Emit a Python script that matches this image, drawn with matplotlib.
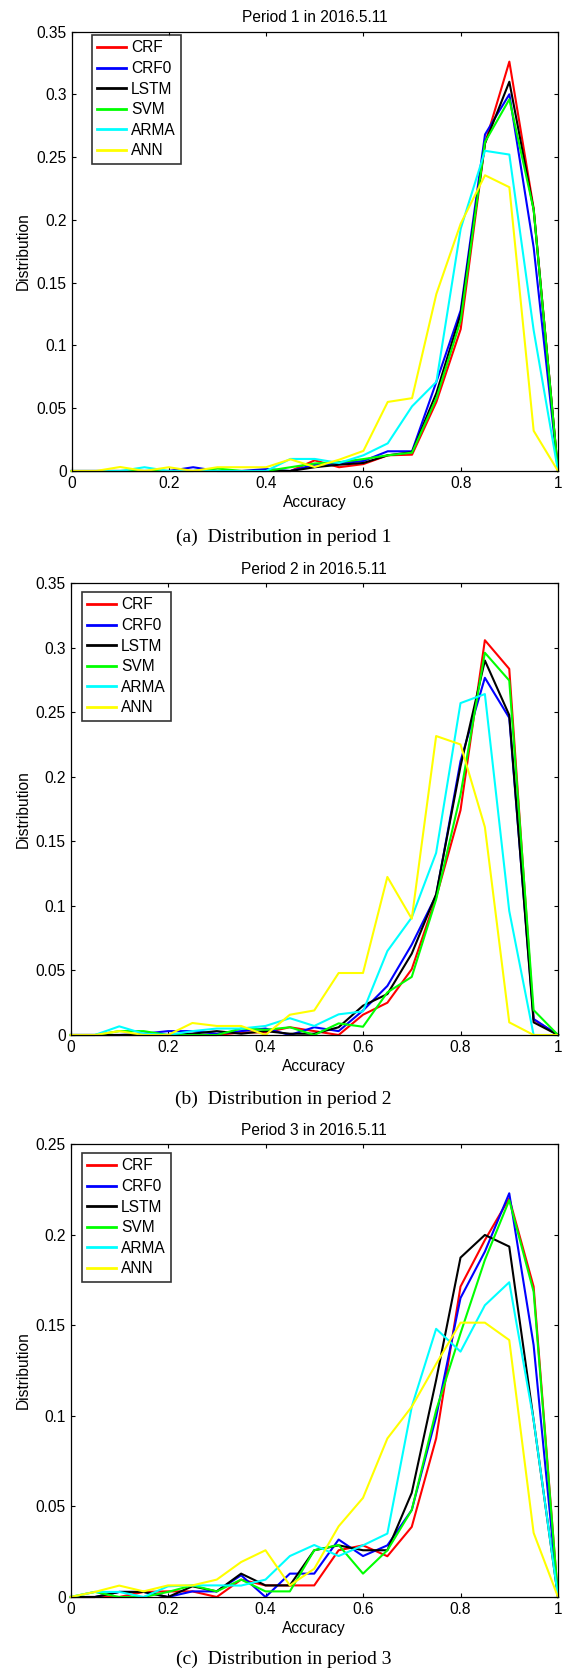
import matplotlib
matplotlib.use("Agg")
import matplotlib.pyplot as plt

plt.rcParams['font.family'] = ['Liberation Sans', 'DejaVu Sans']

accuracy = [0.00, 0.05, 0.10, 0.15, 0.20, 0.25, 0.30, 0.35, 0.40, 0.45, 0.50,
            0.55, 0.60, 0.65, 0.70, 0.75, 0.80, 0.85, 0.90, 0.95, 1.00]
methods = ["CRF", "CRF0", "LSTM", "SVM", "ARMA", "ANN"]
colors = ["#ff0000", "#0000ff", "#000000", "#00ff00", "#00ffff", "#ffff00"]

p1_crf  = [0, 0, 0, 0, 0, 0, 0, 0, 0, 0, 0.0085, 0.003, 0.0055, 0.0125, 0.013, 0.055, 0.113, 0.261, 0.326, 0.209, 0]
p1_crf0 = [0, 0, 0, 0, 0, 0.003, 0, 0, 0.0016, 0, 0.005, 0.006, 0.008, 0.0157, 0.0157, 0.071, 0.128, 0.268, 0.300, 0.178, 0]
p1_lstm = [0, 0, 0, 0, 0, 0, 0, 0, 0, 0, 0.003, 0.005, 0.0064, 0.0125, 0.015, 0.062, 0.125, 0.261, 0.310, 0.208, 0]
p1_svm  = [0, 0, 0, 0, 0, 0, 0.002, 0, 0, 0.003, 0.006, 0.007, 0.0095, 0.0125, 0.0146, 0.058, 0.120, 0.262, 0.296, 0.208, 0]
p1_arma = [0, 0, 0, 0.003, 0, 0, 0, 0, 0, 0.0096, 0.0096, 0.0064, 0.0125, 0.022, 0.0515, 0.071, 0.193, 0.255, 0.252, 0.112, 0]
p1_ann  = [0, 0, 0.0032, 0, 0.003, 0, 0.003, 0.003, 0.003, 0.0093, 0.0032, 0.009, 0.016, 0.055, 0.058, 0.141, 0.197, 0.2355, 0.226, 0.032, 0]

p2_crf  = [0, 0, 0, 0, 0, 0, 0, 0.002, 0.002, 0.006, 0.003, 0, 0.0157, 0.025, 0.051, 0.1065, 0.174, 0.3057, 0.2835, 0.012, 0]
p2_crf0 = [0, 0, 0, 0.001, 0.003, 0.003, 0.001, 0.003, 0.005, 0, 0.006, 0.003, 0.019, 0.038, 0.070, 0.108, 0.212, 0.2766, 0.2456, 0.0124, 0]
p2_lstm = [0, 0, 0, 0, 0, 0.001, 0.003, 0.001, 0.003, 0.001, 0.001, 0.006, 0.0227, 0.0317, 0.063, 0.109, 0.208, 0.290, 0.2477, 0.0098, 0]
p2_svm  = [0, 0, 0.003, 0.003, 0, 0, 0, 0.005, 0.004, 0.006, 0, 0.009, 0.0064, 0.033, 0.045, 0.105, 0.186, 0.296, 0.2745, 0.0193, 0]
p2_arma = [0, 0, 0.0067, 0.001, 0, 0.003, 0.005, 0.005, 0.007, 0.013, 0.007, 0.016, 0.0183, 0.065, 0.091, 0.141, 0.257, 0.264, 0.096, 0, 0]
p2_ann  = [0, 0, 0.003, 0, 0, 0.0093, 0.007, 0.007, 0, 0.0157, 0.019, 0.048, 0.048, 0.1224, 0.090, 0.2315, 0.225, 0.161, 0.0098, 0, 0]

p3_crf  = [0, 0, 0, 0.0028, 0.0031, 0.0031, 0, 0.0096, 0.0064, 0.0064, 0.0064, 0.0258, 0.0285, 0.0225, 0.0387, 0.0875, 0.1713, 0.197, 0.220, 0.1713, 0]
p3_crf0 = [0, 0, 0.0028, 0.0028, 0, 0.0031, 0.0031, 0.012, 0, 0.0129, 0.0129, 0.0317, 0.0226, 0.0285, 0.048, 0.0994, 0.165, 0.1906, 0.2228, 0.139, 0]
p3_lstm = [0, 0, 0.0028, 0.0028, 0, 0.0059, 0.0031, 0.0129, 0.0064, 0.0064, 0.0258, 0.0285, 0.0258, 0.0258, 0.0575, 0.1197, 0.1873, 0.1998, 0.1934, 0.0976, 0]
p3_svm  = [0, 0.0028, 0, 0, 0.0028, 0.0064, 0.0031, 0.0096, 0.0031, 0.0031, 0.0258, 0.0287, 0.0129, 0.0258, 0.048, 0.103, 0.1455, 0.186, 0.219, 0.1685, 0]
p3_arma = [0, 0.0028, 0.0028, 0, 0.0059, 0.0064, 0.0064, 0.0063, 0.0096, 0.0226, 0.0287, 0.0226, 0.0285, 0.035, 0.105, 0.148, 0.1354, 0.161, 0.1737, 0.0976, 0]
p3_ann  = [0, 0.0028, 0.0063, 0.0031, 0.0064, 0.0064, 0.0096, 0.0193, 0.0258, 0.0064, 0.0156, 0.039, 0.0547, 0.0875, 0.105, 0.1286, 0.1514, 0.1514, 0.1418, 0.0354, 0]

titles = ["Period 1 in 2016.5.11", "Period 2 in 2016.5.11", "Period 3 in 2016.5.11"]
captions = ["(a)  Distribution in period 1", "(b)  Distribution in period 2", "(c)  Distribution in period 3"]
x_ticks = [0, 0.2, 0.4, 0.6, 0.8, 1.0]
x_ticklabels = ["0", "0.2", "0.4", "0.6", "0.8", "1"]
y_ticks_a = [0, 0.05, 0.10, 0.15, 0.20, 0.25, 0.30, 0.35]
y_ticklabels_a = ["0", "0.05", "0.1", "0.15", "0.2", "0.25", "0.3", "0.35"]
y_ticks_c = [0, 0.05, 0.10, 0.15, 0.20, 0.25]
y_ticklabels_c = ["0", "0.05", "0.1", "0.15", "0.2", "0.25"]

panels = [
    dict(series=[p1_crf, p1_crf0, p1_lstm, p1_svm, p1_arma, p1_ann], ymax=0.35,
         yt=y_ticks_a, ytl=y_ticklabels_a, box=(71.5, 558, 31.5, 471), leg=(20.5, 3.5)),
    dict(series=[p2_crf, p2_crf0, p2_lstm, p2_svm, p2_arma, p2_ann], ymax=0.35,
         yt=y_ticks_a, ytl=y_ticklabels_a, box=(70.5, 558, 583, 1035), leg=(11.5, 9)),
    dict(series=[p3_crf, p3_crf0, p3_lstm, p3_svm, p3_arma, p3_ann], ymax=0.25,
         yt=y_ticks_c, ytl=y_ticklabels_c, box=(70.5, 558, 1144, 1597), leg=(11.5, 9)),
]
caption_y = [537, 1099, 1659]

W, H = 567, 1671
fig = plt.figure(figsize=(W / 100, H / 100), dpi=100)
fig.patch.set_facecolor("white")

FS = 11.2
for i, p in enumerate(panels):
    l, r, t, b = p["box"]
    aw, ah = r - l, b - t
    ax = fig.add_axes([l / W, 1 - b / H, aw / W, ah / H])
    for name, col, ys in zip(methods, colors, p["series"]):
        ax.plot(accuracy, ys, color=col, lw=1.5, label=name, clip_on=False)
    ax.set_xlim(0, 1)
    ax.set_ylim(0, p["ymax"])
    ax.set_xticks(x_ticks)
    ax.set_xticklabels(x_ticklabels)
    ax.set_yticks(p["yt"])
    ax.set_yticklabels(p["ytl"])
    ax.tick_params(direction="in", length=3.2, width=0.8, top=True, right=True,
                   labelsize=FS, pad=3.5, colors="black")
    for s in ax.spines.values():
        s.set_linewidth(0.9)
    ax.set_xlabel("Accuracy", fontsize=FS)
    ax.xaxis.set_label_coords(0.5, -24.5 / ah)
    ax.set_ylabel("Distribution", fontsize=FS)
    ax.yaxis.set_label_coords(-(l - 31) / aw, 0.5)
    ax.set_title(titles[i], fontsize=FS, pad=6.5)
    dx, dy = p["leg"]
    leg = ax.legend(loc="upper left", bbox_to_anchor=(dx / aw, 1 - dy / ah),
                    borderaxespad=0, fontsize=FS, frameon=True, fancybox=False,
                    handlelength=1.85, handletextpad=0.3, labelspacing=0.36,
                    borderpad=0.35)
    fr = leg.get_frame()
    fr.set_edgecolor("black")
    fr.set_linewidth(1.2)
    for ln in leg.get_lines():
        ln.set_linewidth(2.0)
    fig.text(0.5, 1 - caption_y[i] / H, captions[i],
             ha="center", va="center", fontsize=14, family=["Liberation Serif", "DejaVu Serif"])

fig.savefig("out.png", dpi=100, facecolor="white")
